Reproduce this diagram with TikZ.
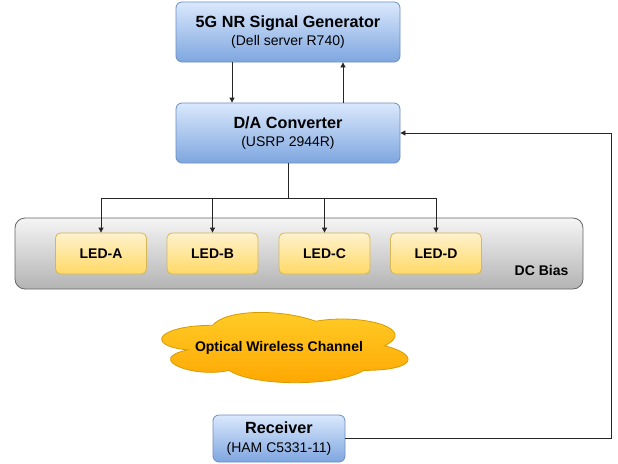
\documentclass[tikz,border=0pt]{standalone}
\usepackage{fontspec}
\setmainfont{Liberation Sans}
\usetikzlibrary{arrows.meta}
\definecolor{bluetop}{HTML}{DAE8FC}\definecolor{bluebot}{HTML}{7EA6E0}\definecolor{bluedraw}{HTML}{6C8EBF}
\definecolor{ledtop}{HTML}{FFF2CC}\definecolor{ledbot}{HTML}{FFD966}\definecolor{leddraw}{HTML}{D6B656}
\definecolor{biastop}{HTML}{F5F5F5}\definecolor{biasbot}{HTML}{B3B3B3}\definecolor{biasdraw}{HTML}{666666}
\definecolor{cloudtop}{HTML}{FFCD28}\definecolor{cloudbot}{HTML}{FFA500}\definecolor{clouddraw}{HTML}{D79B00}
\newcommand{\hdtxt}{\bfseries\fontsize{16.2}{18.4}\selectfont}
\newcommand{\subtxt}{\fontsize{14}{18.4}\selectfont}
\newcommand{\lbltxt}{\bfseries\fontsize{14}{16}\selectfont}

\begin{document}
\begin{tikzpicture}[>={Triangle[length=5pt,width=5pt]},x=1pt,y=-1pt,line width=0.8pt]
\tikzset{blk/.style={draw=bluedraw,rounded corners=6pt,top color=bluetop,bottom color=bluebot,align=center,font=\subtxt,minimum width=224pt,minimum height=60pt,inner sep=0pt},led/.style={draw=leddraw,rounded corners=5pt,top color=ledtop,bottom color=ledbot,font=\lbltxt,minimum width=91pt,minimum height=41pt,inner sep=0pt},lnk/.style={draw=black!85}}
\useasboundingbox (0,0) rectangle (618,463);
\node[blk] (gen) at (288,32) {{\hdtxt 5G NR Signal Generator}\\(Dell server R740)};
\node[blk] (dac) at (288,133) {{\hdtxt D/A Converter}\\(USRP 2944R)};
\node[draw=biasdraw,rounded corners=10pt,top color=biastop,bottom color=biasbot,minimum width=568pt,minimum height=71pt] (bias) at (299,253.5) {};
\node[led] (la) at (101,253.5) {LED-A}; \node[led] (lb) at (212.5,253.5) {LED-B};
\node[led] (lc) at (324.5,253.5) {LED-C}; \node[led] (ld) at (436,253.5) {LED-D};
\node[font=\lbltxt] (dcb) at (541.5,270) {DC Bias};
% cloud outline, drawn in its own unit box
\begin{scope}[shift={(143.8,304.8)},x=275pt,y=-82pt]
\path[draw=clouddraw,top color=cloudtop,bottom color=cloudbot] (0.25,0.25) .. controls (0.05,0.25) and (0,0.5) .. (0.16,0.55) .. controls (0,0.66) and (0.18,0.9) .. (0.31,0.8) .. controls (0.4,1) and (0.7,1) .. (0.8,0.8) .. controls (1,0.8) and (1,0.6) .. (0.875,0.5) .. controls (1,0.3) and (0.8,0.1) .. (0.625,0.2) .. controls (0.5,0.05) and (0.3,0.05) .. (0.25,0.25) -- cycle;
\end{scope}
\node[font=\lbltxt] (owc) at (279,348) {Optical Wireless Channel};
\node[blk,minimum width=132pt,minimum height=47pt] (rx) at (279,438.5) {{\hdtxt Receiver}\\(HAM C5331-11)};
% signal path
\draw[lnk,->] ([xshift=-56pt]gen.south) -- ([xshift=-56pt]dac.north);
\draw[lnk,->] ([xshift=55pt]dac.north) -- ([xshift=55pt]gen.south);
\draw[lnk] (dac.south) -- ++(0,35) coordinate (split);
\foreach \l in {la,lb,lc,ld} \draw[lnk,->] (split) -| (\l.north);
\draw[lnk,->] (rx.east) -- ++(266,0) |- (dac.east);
\end{tikzpicture}
\end{document}
